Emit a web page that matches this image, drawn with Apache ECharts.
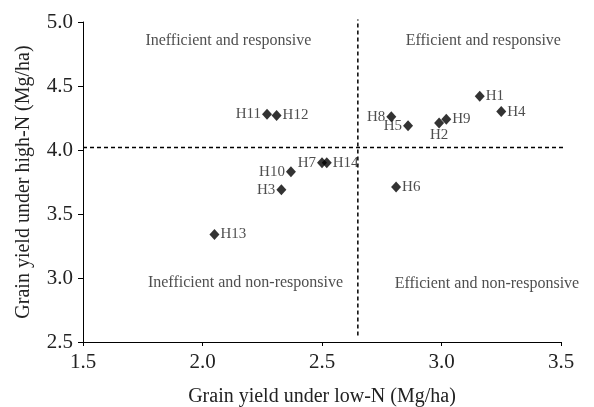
<!DOCTYPE html>
<html>
<head>
<meta charset="utf-8">
<script src="https://cdn.jsdelivr.net/npm/echarts@6/dist/echarts.min.js"></script>
<style>html,body{margin:0;padding:0;background:#fff}#c{width:594px;height:407px}</style>
</head>
<body>
<div id="c"></div>
<script>
const names = ['H1','H2','H3','H4','H5','H6','H7','H8','H9','H10','H11','H12','H13','H14'];
const lowN  = [3.16, 2.99, 2.33, 3.25, 2.86, 2.81, 2.50, 2.79, 3.02, 2.37, 2.27, 2.31, 2.05, 2.52];
const highN = [4.42, 4.21, 3.69, 4.30, 4.19, 3.71, 3.90, 4.26, 4.24, 3.83, 4.28, 4.27, 3.34, 3.90];
const labelPos = ['right','bottom','left','right','left','right','left','left','right','left','left','right','right','right'];
const quadrantText = ['Inefficient and responsive','Efficient and responsive','Inefficient and non-responsive','Efficient and non-responsive'];
const quadrantX = [2.108, 3.175, 2.18, 3.19];
const quadrantY = [4.857, 4.857, 2.959, 2.955];
const cutX = 2.65, cutY = 4.02;
const vLine = [[cutX, 2.55], [cutX, 5.02]];
const hLine = [[1.5, cutY], [3.54, cutY]];

const font = 'Liberation Serif';
const chart = echarts.init(document.getElementById('c'));
const pts = names.map((n,i)=>({
  value:[lowN[i], highN[i]], name:n,
  label:{show:true, formatter:n, position:labelPos[i], distance: labelPos[i]==='bottom'?-1:1}
}));
const dash = {type:'line', symbol:'none', clip:false, silent:true, z:1,
  lineStyle:{color:'#000', type:[4,3], width:1.5}};
chart.setOption({
  animation:false,
  grid:{left:83, right:33, top:22, bottom:65, containLabel:false, outerBoundsMode:'none'},
  xAxis:{type:'value', min:1.5, max:3.5, interval:0.5,
    name:'Grain yield under low-N (Mg/ha)', nameLocation:'middle', nameGap:45,
    nameTextStyle:{fontFamily:font, fontSize:20, color:'#222'},
    axisLine:{show:true, onZero:false, lineStyle:{color:'#000', width:1}},
    axisTick:{show:true, inside:false, length:4, lineStyle:{color:'#000'}},
    axisLabel:{fontFamily:font, fontSize:21, color:'#222', margin:10, formatter:v=>v.toFixed(1)},
    splitLine:{show:false}},
  yAxis:{type:'value', min:2.5, max:5.0, interval:0.5,
    name:'Grain yield under high-N (Mg/ha)', nameLocation:'middle', nameGap:49,
    nameTextStyle:{fontFamily:font, fontSize:20, color:'#222'},
    axisLine:{show:true, onZero:false, lineStyle:{color:'#000', width:1}},
    axisTick:{show:true, inside:false, length:5, lineStyle:{color:'#000'}},
    axisLabel:{fontFamily:font, fontSize:21, color:'#222', margin:10, formatter:v=>v.toFixed(1)},
    splitLine:{show:false}},
  series:[
    Object.assign({data:vLine}, dash),
    Object.assign({data:hLine}, dash),
    {type:'scatter', symbol:'diamond', symbolSize:[10,11], clip:false, z:3,
     itemStyle:{color:'#000'},
     label:{fontFamily:font, fontSize:15, color:'#222'},
     data:pts},
    {type:'scatter', symbolSize:0, clip:false, silent:true,
     label:{show:true, position:'inside', fontFamily:font, fontSize:16, color:'#222',
       formatter:p=>p.data.name},
     data:quadrantText.map((t,i)=>({name:t, value:[quadrantX[i], quadrantY[i]]}))
    }
  ]
});
</script>
</body>
</html>
